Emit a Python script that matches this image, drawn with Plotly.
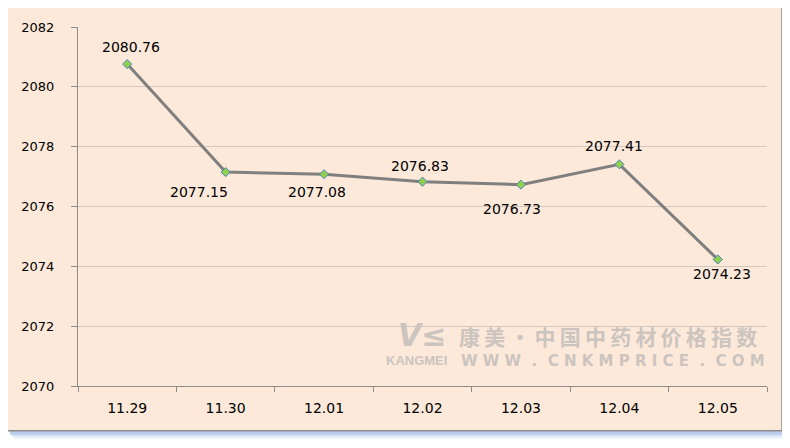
import plotly.graph_objects as go

categories = ["11.29", "11.30", "12.01", "12.02", "12.03", "12.04", "12.05"]
values = [2080.76, 2077.15, 2077.08, 2076.83, 2076.73, 2077.41, 2074.23]
y_ticks = [2070, 2072, 2074, 2076, 2078, 2080, 2082]

# label offsets (style): pixel shifts of each data label from its point
label_dx = [4, -27, -7, -3, -9, -5, 4]
label_dy = [17, -20, -18, 16, -24, 18, -15]

# page body has an 8px margin, so the figure starts at (8, 8) in the window
OFF = 8
W, H = 790 - OFF, 448 - OFF
L, R, T, B = 78 - OFF, 790 - 767, 25 - OFF, 448 - 386
PW, PH = W - L - R, H - T - B


def px(x):  # window px -> paper x
    return (x - OFF - L) / PW


def py(y):  # window px -> paper y
    return (H - B - (y - OFF)) / PH


fig = go.Figure()
fig.add_trace(go.Scatter(
    x=categories, y=values, mode="lines+markers",
    line=dict(color="#7f7f7f", width=3),
    marker=dict(symbol="diamond", size=7, color="#8fd14f",
                line=dict(color="#4f81bd", width=1)),
    cliponaxis=False, hoverinfo="skip", showlegend=False,
))

annotations = []
for i, (v, dx, dy) in enumerate(zip(values, label_dx, label_dy)):
    annotations.append(dict(x=i, y=v, xref="x", yref="y", text=f"{v:.2f}",
                            showarrow=False, xshift=dx, yshift=dy,
                            xanchor="center", yanchor="middle",
                            font=dict(family="DejaVu Sans", size=14, color="#000000")))

shapes = []
# soft blue shadow
for i, c in enumerate(["#eef3fb", "#d6e2f5", "#b9cdeb"]):
    off = 6 - 2 * i
    shapes.append(dict(type="rect", xref="paper", yref="paper",
                       x0=px(8 + off), x1=px(784 + off),
                       y0=py(433 + off), y1=py(4 + off),
                       fillcolor=c, line=dict(width=0), layer="below"))
shapes.append(dict(type="rect", xref="paper", yref="paper",
                   x0=px(6), x1=px(782), y0=py(431), y1=py(1),
                   fillcolor="#fde9da", line=dict(color="#8c8c8c", width=1.5), layer="below"))

wm = "#ccc4be"
cn = "\u2009".join("康美·中国中药材价格指数")
annotations += [
    dict(xref="paper", yref="paper", x=px(457), y=py(336),
         text=f"<b>{cn}</b>", showarrow=False, xanchor="left", yanchor="middle",
         font=dict(family="Noto Sans CJK SC", size=21, color=wm)),
    dict(xref="paper", yref="paper", x=px(384), y=py(360),
         text="<b>KANGMEI</b>", showarrow=False, xanchor="left", yanchor="middle",
         font=dict(family="Liberation Sans Narrow, Liberation Sans", size=13, color=wm)),
    dict(xref="paper", yref="paper", x=px(459), y=py(361),
         text="<b>W W W  .  C N K M P R I C E  .  C O M</b>", showarrow=False,
         xanchor="left", yanchor="middle",
         font=dict(family="DejaVu Sans", size=15, color=wm)),
    dict(xref="paper", yref="paper", x=px(422), y=py(335),
         text="<b><i>ᐯ≤</i></b>", showarrow=False, xanchor="center", yanchor="middle",
         font=dict(family="DejaVu Sans", size=30, color=wm)),
]

fig.update_layout(
    width=W, height=H,
    margin=dict(l=L, r=R, t=T, b=B, pad=0),
    paper_bgcolor="#ffffff", plot_bgcolor="rgba(0,0,0,0)",
    shapes=shapes, annotations=annotations,
    xaxis=dict(type="category", tickson="boundaries", ticks="outside", ticklen=5,
               tickcolor="#8c8c8c", showline=True, linecolor="#8c8c8c", linewidth=1,
               showgrid=False, tickfont=dict(family="DejaVu Sans", size=14, color="#000"),
               range=[-0.5, 6.5], fixedrange=True, ticklabelstandoff=9),
    yaxis=dict(range=[2070, 2082], tickvals=y_ticks, ticks="outside", ticklen=6,
               tickcolor="#8c8c8c", showline=True, linecolor="#8c8c8c", linewidth=1,
               showgrid=True, gridcolor="#d3c8bf", gridwidth=1, zeroline=False,
               tickfont=dict(family="DejaVu Sans", size=13, color="#000"), ticklabelstandoff=14),
    font=dict(family="DejaVu Sans"),
)

fig.write_html("out.html")
